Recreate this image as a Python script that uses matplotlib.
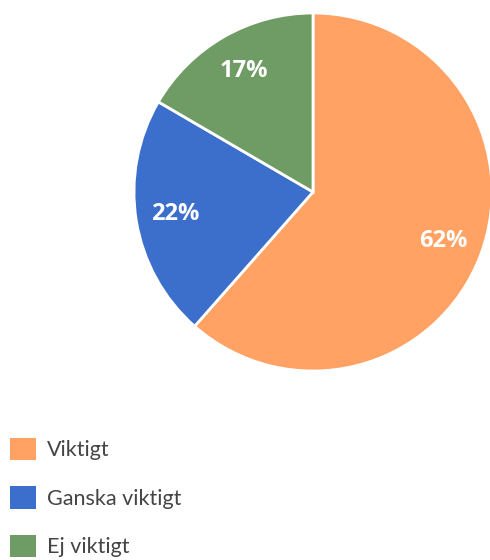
import matplotlib
matplotlib.use("Agg")
import matplotlib.pyplot as plt

categories = ["Viktigt", "Ganska viktigt", "Ej viktigt"]
shares = [61.5, 21.9, 16.6]
colors = ["#FFA263", "#3C6FCB", "#6F9B65"]

W, H = 490, 560
fig = plt.figure(figsize=(W / 100, H / 100), dpi=100)

# pie centre ~ (313, 192) px, radius ~179 px
cx, cy, r = 313, 192, 179
ax = fig.add_axes([(cx - r) / W, (H - cy - r) / H, 2 * r / W, 2 * r / H])

wedges, _, autotexts = ax.pie(
    shares, colors=colors, startangle=90, counterclock=False,
    autopct="%.0f%%", pctdistance=0.78,
    wedgeprops={"edgecolor": "white", "linewidth": 2},
    textprops={"color": "white", "fontsize": 17, "fontweight": "bold",
               "family": "Open Sans"},
)
ax.set_xlim(-1, 1)
ax.set_ylim(-1, 1)
ax.set_aspect("equal")

leg = fig.legend(
    wedges, categories, loc="upper left",
    bbox_to_anchor=(10 / W, 1 - 438 / H), frameon=False,
    borderpad=0, borderaxespad=0, handlelength=1.22, handleheight=1.22,
    handletextpad=0.5, labelspacing=1.2,
    prop={"family": "Lato", "size": 15.5},
)
for t in leg.get_texts():
    t.set_color("#444444")
for h in leg.legend_handles:
    h.set_linewidth(0)

fig.savefig("out.png", dpi=100)
plt.close(fig)
